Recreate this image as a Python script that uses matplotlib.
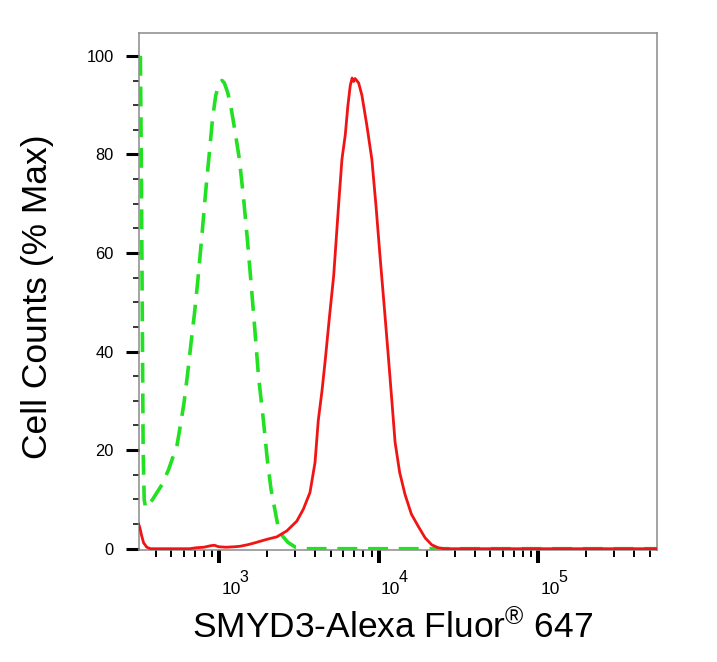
import numpy as np
import matplotlib
matplotlib.use("Agg")
import matplotlib.pyplot as plt
from matplotlib import font_manager
from matplotlib.ticker import MultipleLocator, LogLocator, FixedLocator, NullFormatter
import matplotlib.transforms as mtransforms

green_x = [320, 324, 327, 330, 333, 338, 345, 380, 437, 480, 543, 570, 600, 630, 664,
           700, 731, 780, 824, 870, 908, 950, 1000, 1040, 1075, 1130, 1184, 1250, 1336,
           1420, 1506, 1580, 1660, 1760, 1890, 2000, 2110, 2335, 2500, 2690, 3000,
           3530, 554000]
green_y = [100, 80, 60, 40, 20, 10, 8.3, 9.9, 13, 16, 21, 25, 29.5, 35, 41.6,
           48, 54, 64, 73, 81, 87.5, 92, 94.5, 95, 94.5, 92.5, 89.5, 85, 79,
           71, 62, 54, 45.5, 35, 26, 18, 12, 4.5, 2.5, 1.3, 0.3,
           0, 0]

red_x = [312, 318, 325, 335, 351, 370, 650, 720, 800, 880, 930, 990, 1100, 1250,
         1350, 1500, 1630, 1800, 1985, 2290, 2645, 3060, 3360, 3700, 3980, 4170,
         4400, 4620, 4900, 5210, 5600, 5870, 6160, 6400, 6620, 6800, 6950,
         7100, 7470, 7830, 8400, 9040, 9600, 10190, 10850, 11500, 12100, 12640, 13500,
         14590, 16000, 17690, 19500, 21430, 23500, 25800, 554000]
red_y = [5.0, 4.2, 2.8, 1.2, 0.3, 0, 0, 0.2, 0.3, 0.6, 0.7, 0.4, 0.3, 0.4,
         0.5, 0.8, 1.1, 1.5, 1.9, 2.4, 3.6, 5.6, 8, 11.4, 17.5, 26,
         32, 38.5, 47, 55.4, 70, 79, 84, 90, 94, 95.5, 94.8,
         95.4, 94.5, 92, 86, 79, 69.5, 59, 48.5, 38.5, 29.5, 21.6, 15.5,
         11.0, 7, 4.5, 2.2, 0.8, 0.2, 0, 0]

xticks = [1e3, 1e4, 1e5]
xtick_exp = ['3', '4', '5']

xlabel = 'SMYD3-Alexa Fluor$^{\\mathrm{®}}$ 647'
ylabel = 'Cell Counts (% Max)'

# === fontes ===
nomes = {f.name for f in font_manager.fontManager.ttflist}
fonte = 'Liberation Sans' if 'Liberation Sans' in nomes else 'DejaVu Sans'
estreita = 'Liberation Sans Narrow' in nomes
fonte_tick = 'Liberation Sans Narrow' if estreita else fonte
tam_tick = 14 if estreita else 12.5
plt.rcParams['font.family'] = [fonte, 'DejaVu Sans']
plt.rcParams['mathtext.fontset'] = 'custom'
plt.rcParams['mathtext.rm'] = fonte
plt.rcParams['mathtext.it'] = fonte
plt.rcParams['mathtext.bf'] = fonte

fig = plt.figure(figsize=(7.17, 6.62), dpi=100)
ax = fig.add_axes([0.1932, 0.1692, 0.7231, 0.7814])

ax.plot(green_x, green_y, color='#22e022', lw=2.6, dashes=(5.5, 3), zorder=3)
ax.plot(red_x, red_y, color='#f01414', lw=2.0, zorder=4)

ax.set_xscale('log')
ax.set_xlim(311.5, 554000)
ax.set_ylim(-0.26, 104.7)

ax.yaxis.set_major_locator(MultipleLocator(20))
ax.yaxis.set_minor_locator(MultipleLocator(5))
ax.xaxis.set_major_locator(FixedLocator(xticks))
ax.xaxis.set_major_formatter(NullFormatter())
ax.xaxis.set_minor_locator(LogLocator(base=10, subs=np.arange(2, 10), numticks=20))
ax.xaxis.set_minor_formatter(NullFormatter())

for lado in ['top', 'right', 'left', 'bottom']:
    ax.spines[lado].set_color('#8a8a8a')
    ax.spines[lado].set_linewidth(1.1)

ax.tick_params(axis='y', which='major', length=9.4, width=2.2, color='black',
               pad=8.6, labelsize=11.8)
ax.tick_params(axis='y', which='minor', length=4.3, width=1.1, color='black')
ax.tick_params(axis='x', which='major', length=9.4, width=2.9, color='black')
ax.tick_params(axis='x', which='minor', length=5, width=1.4, color='black')

# rótulos 10^n no estilo do FlowJo (expoente quase do mesmo tamanho)
base = mtransforms.blended_transform_factory(ax.transData, ax.transAxes)
px = fig.dpi_scale_trans
for val, e in zip(xticks, xtick_exp):
    ax.text(val, 0, '10', fontsize=tam_tick, family=fonte_tick, ha='left',
            va='baseline', clip_on=False,
            transform=base + mtransforms.ScaledTranslation(2 / 100, -44 / 100, px))
    ax.text(val, 0, e, fontsize=tam_tick - 1, family=fonte_tick, ha='left',
            va='baseline', clip_on=False,
            transform=base + mtransforms.ScaledTranslation(20 / 100, -32.5 / 100, px))

ax.set_ylabel(ylabel, fontsize=25.5)
ax.yaxis.set_label_coords(-0.194, 0.49)
ax.yaxis.label.set_verticalalignment('center')
ax.set_xlabel(xlabel, fontsize=25.5)
ax.xaxis.set_label_coords(0.49, -0.148)
ax.xaxis.label.set_verticalalignment('center')

fig.savefig('out.png', dpi=100)
